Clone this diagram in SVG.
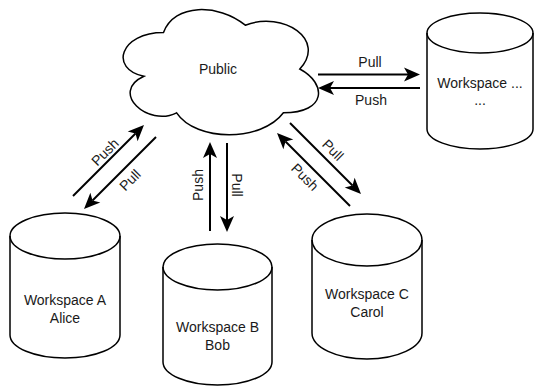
<svg xmlns="http://www.w3.org/2000/svg" width="535" height="388" viewBox="0 0 535 388">
<style>
.shape{fill:#fff;stroke:#000;stroke-width:1.5}
.inner{fill:none;stroke:#000;stroke-width:1.5}
.conn{stroke:#000;stroke-width:2;fill:none;marker-end:url(#arr)}
text{font-family:"Liberation Sans",Arial,Helvetica,sans-serif;font-size:14px;fill:#1a1a1a;text-anchor:middle;dominant-baseline:central}
</style>
<defs>
<marker id="arr" markerUnits="userSpaceOnUse" viewBox="-1 -8 18 16" refX="4" refY="0" markerWidth="18" markerHeight="16" orient="auto">
<path d="M16,0 L0,-7 L4,0 L0,7 Z" fill="#000"/>
</marker>
</defs>
<rect width="535" height="388" fill="#fff"/>
<g id="public">
<path class="shape" d="M163.5,32.5 C119.9,32.5 109,69 143.9,76.3 C109,92.4 148.2,127.4 176.6,112.8 C196.2,142 261.6,142 283.4,112.8 C327,112.8 327,83.6 299.8,69 C327,39.8 283.4,10.6 245.3,25.2 C218,3.3 174.4,3.3 163.5,32.5 Z"/>
<text x="218" y="69">Public</text>
</g>
<g id="ws-dots">
<path class="shape" d="M427,33 A53,20 0 0 1 533,33 L533,129 A53,20 0 0 1 427,129 Z"/>
<path class="inner" d="M427,33 A53,20 0 0 0 533,33"/>
<text x="480" y="83">Workspace ...</text>
<text x="480" y="100">...</text>
</g>
<g id="ws-a">
<path class="shape" d="M10,236 A55,23 0 0 1 120,236 L120,335 A55,23 0 0 1 10,335 Z"/>
<path class="inner" d="M10,236 A55,23 0 0 0 120,236"/>
<text x="65" y="300">Workspace A</text>
<text x="65" y="318">Alice</text>
</g>
<g id="ws-b">
<path class="shape" d="M163,267 A54.5,23 0 0 1 272,267 L272,362 A54.5,23 0 0 1 163,362 Z"/>
<path class="inner" d="M163,267 A54.5,23 0 0 0 272,267"/>
<text x="217.5" y="327">Workspace B</text>
<text x="217.5" y="345">Bob</text>
</g>
<g id="ws-c">
<path class="shape" d="M312,240 A55,26 0 0 1 422,240 L422,333 A55,26 0 0 1 312,333 Z"/>
<path class="inner" d="M312,240 A55,26 0 0 0 422,240"/>
<text x="367" y="294">Workspace C</text>
<text x="367" y="312">Carol</text>
</g>
<g id="connectors">
<line class="conn" x1="318" y1="74.5" x2="408" y2="74.5"/>
<line class="conn" x1="420" y1="88" x2="330" y2="88"/>
<line class="conn" x1="73" y1="196" x2="135.5" y2="133.5"/>
<line class="conn" x1="156" y1="137" x2="92.5" y2="200.5"/>
<line class="conn" x1="210" y1="231" x2="210" y2="154"/>
<line class="conn" x1="227" y1="143" x2="227" y2="220"/>
<line class="conn" x1="290" y1="123" x2="352.5" y2="185.5"/>
<line class="conn" x1="350" y1="206" x2="285.5" y2="141.5"/>
<text x="370" y="62">Pull</text>
<text x="371" y="100">Push</text>
<text x="105" y="152" transform="rotate(-45 105 152)">Push</text>
<text x="130" y="180" transform="rotate(-45 130 180)">Pull</text>
<text x="198" y="185" transform="rotate(-90 198 185)">Push</text>
<text x="237" y="185" transform="rotate(90 237 185)">Pull</text>
<text x="333" y="150" transform="rotate(45 333 150)">Pull</text>
<text x="305" y="177" transform="rotate(45 305 177)">Push</text>
</g>
</svg>
